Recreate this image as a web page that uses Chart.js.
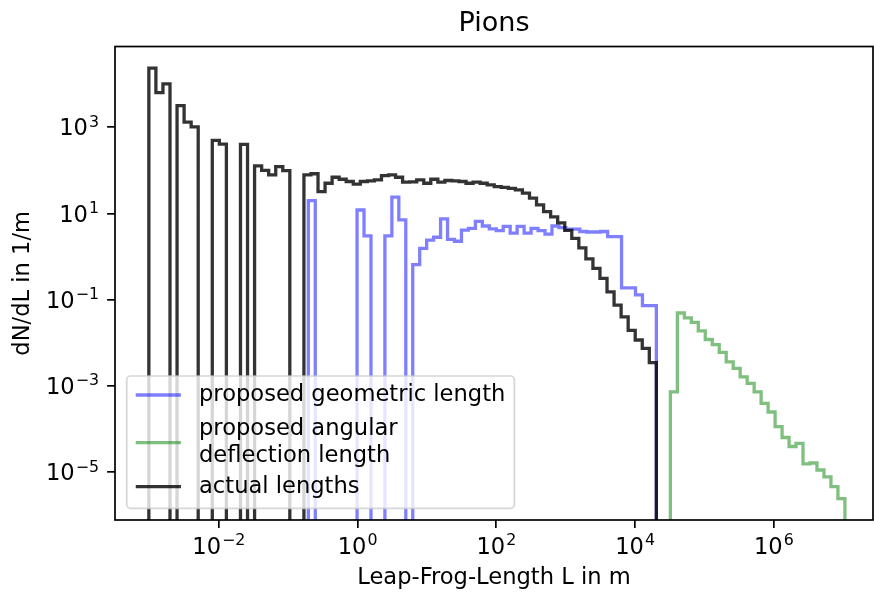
<!DOCTYPE html>
<html>
<head>
<meta charset="utf-8">
<title>Pions</title>
<script src="https://cdn.jsdelivr.net/npm/chart.js@4/dist/chart.umd.min.js"></script>
<style>
  html, body { margin: 0; padding: 0; background: #fff; }
</style>
</head>
<body>
<canvas id="pions" width="874" height="595"></canvas>
<script>
// log10 of first and last bin edge of each histogram
const actualRange = [-3.009, 4.307];
const geometricRange = [-0.710, 4.307];
const angularRange = [4.509, 7.025];

// dN/dL per bin (0 = empty bin)
const actualCounts = [
  23400, 6350, 10100, 0, 3170, 1310, 1020, 0, 0, 494,
  404, 0, 0, 400, 0, 126, 99.5, 78, 122, 98,
  0, 0, 78, 83, 32, 50, 69, 62, 55, 48,
  55, 57, 60, 75, 78, 69, 53, 54, 60, 50,
  62, 53, 58, 57, 55, 50, 53, 50, 46, 42,
  40, 38, 35.1, 29.4, 22.5, 15.7, 11.0, 8.3, 6.0, 4.04,
  2.63, 1.58, 0.88, 0.53, 0.31, 0.151, 0.075, 0.040, 0.0193, 0.0116,
  0.0074, 0.00345
];
const geometricCounts = [
  19.8, 0, 0, 0, 0, 0, 0, 12.0, 3.0, 0,
  0, 3.0, 23.8, 7.1, 0, 0.65, 1.54, 2.39, 2.8, 7.5,
  2.5, 2.26, 4.1, 4.5, 6.5, 5.1, 4.4, 4.0, 5.0, 3.5,
  5.0, 3.5, 4.5, 4.0, 3.3, 5.1, 4.7, 4.3, 4.3, 3.8,
  3.7, 3.7, 3.8, 2.9, 2.9, 0.187, 0.187, 0.129, 0.073, 0.073
];
const angularCounts = [
  7.3e-4, 0.049, 0.0376, 0.0296, 0.0188, 0.0119, 0.0091, 0.0060, 0.0036, 0.00254,
  0.00161, 0.00114, 7.3e-4, 3.95e-4, 2.48e-4, 1.13e-4, 6.35e-5, 3.93e-5, 4.66e-5, 1.55e-5,
  1.63e-5, 1.12e-5, 7.8e-6, 4.6e-6, 2.44e-6
];

const seriesNames = ['proposed geometric length', 'proposed angular\ndeflection length', 'actual lengths'];

const xTicks = [1e-2, 1, 1e2, 1e4, 1e6];
const xTickLabels = ['10^\u22122', '10^0', '10^2', '10^4', '10^6'];
const yTicks = [1e-5, 1e-3, 1e-1, 1e1, 1e3];
const yTickLabels = ['10^\u22125', '10^\u22123', '10^\u22121', '10^1', '10^3'];

const FONT = 'DejaVu Sans';
const FS = 22.6;       // 10pt text
const FLOOR = 1e-12;   // empty bins fall below the axis like in matplotlib

// turn bin counts into the outline of a step histogram
function histPoints(range, counts) {
  const n = counts.length;
  const edge = (i) => 10 ** (range[0] + (range[1] - range[0]) * i / n);
  const pts = [{ x: edge(0), y: FLOOR }];
  counts.forEach((c, i) => pts.push({ x: edge(i), y: c || FLOOR }));
  pts.push({ x: edge(n), y: counts[n - 1] || FLOOR });
  pts.push({ x: edge(n), y: FLOOR });
  return pts;
}

function stepSet(label, range, counts, color, order) {
  return {
    label: label,
    data: histPoints(range, counts),
    borderColor: color,
    borderWidth: 3.3,
    pointRadius: 0,
    fill: false,
    stepped: 'before',
    order: order,
  };
}

// "10^e" drawn as base plus raised smaller exponent, like mathtext
function powerLabel(ctx, text, x, baseline, align) {
  const [base, exp] = text.split('^');
  const bigFont = FS + 'px "' + FONT + '"';
  const smallFont = (FS * 0.7) + 'px "' + FONT + '"';
  ctx.font = bigFont;
  const wb = ctx.measureText(base).width;
  ctx.font = smallFont;
  const we = ctx.measureText(exp).width;
  const total = wb + 1 + we;
  let left = x;
  if (align === 'center') left = x - total / 2;
  if (align === 'right') left = x - total;
  ctx.textAlign = 'left';
  ctx.textBaseline = 'alphabetic';
  ctx.font = bigFont;
  ctx.fillText(base, left, baseline);
  ctx.font = smallFont;
  ctx.fillText(exp, left + wb + 1, baseline - 8.8);
}

// frame, tick labels and a matplotlib-like legend inside the axes
const frameLegend = {
  id: 'frameLegend',
  afterDraw(chart) {
    const { ctx, chartArea: a } = chart;
    const xs = chart.scales.x;
    const ys = chart.scales.y;
    ctx.save();
    ctx.strokeStyle = '#000';
    ctx.lineWidth = 1.7;
    ctx.strokeRect(a.left, a.top, a.right - a.left, a.bottom - a.top);

    ctx.fillStyle = '#000';
    xTicks.forEach((v, i) => powerLabel(ctx, xTickLabels[i], xs.getPixelForValue(v), a.bottom + 33.5, 'center'));
    yTicks.forEach((v, i) => powerLabel(ctx, yTickLabels[i], a.left - 16, ys.getPixelForValue(v) + 8.3, 'right'));

    ctx.font = FS + 'px "' + FONT + '"';
    const lines = chart.data.datasets.map((d) => d.label.split('\n'));
    let textW = 0;
    lines.flat().forEach((t) => { textW = Math.max(textW, ctx.measureText(t).width); });
    const pad = 0.4 * FS;
    const handle = 2 * FS;
    const gap = 0.8 * FS;
    const boxX = a.left + 11.7;
    const boxH = 132.3;
    const boxY = a.bottom - 11.7 - boxH;
    const boxW = pad + handle + gap + textW + pad;

    ctx.beginPath();
    ctx.roundRect(boxX, boxY, boxW, boxH, 4);
    ctx.fillStyle = 'rgba(255,255,255,0.8)';
    ctx.fill();
    ctx.strokeStyle = 'rgba(204,204,204,0.8)';
    ctx.lineWidth = 1.7;
    ctx.stroke();

    const rows = [19, 66.7, 110.7];
    const lineGap = 26.4;
    chart.data.datasets.forEach((d, i) => {
      const cy = boxY + rows[i];
      ctx.beginPath();
      ctx.moveTo(boxX + pad, cy);
      ctx.lineTo(boxX + pad + handle, cy);
      ctx.strokeStyle = d.borderColor;
      ctx.lineWidth = d.borderWidth;
      ctx.stroke();
      ctx.fillStyle = '#000';
      ctx.textBaseline = 'middle';
      ctx.textAlign = 'left';
      const ls = lines[i];
      ls.forEach((t, k) => {
        const ty = cy + (k - (ls.length - 1) / 2) * lineGap;
        ctx.fillText(t, boxX + pad + handle + gap, ty);
      });
    });
    ctx.restore();
  }
};

const axisGrid = {
  display: true,
  drawOnChartArea: false,
  drawTicks: true,
  tickLength: 7.9,
  tickWidth: 1.7,
  tickColor: '#000',
  color: '#000',
  lineWidth: 1.7,
};

new Chart(document.getElementById('pions'), {
  type: 'line',
  data: {
    datasets: [
      stepSet(seriesNames[0], geometricRange, geometricCounts, 'rgba(0,0,255,0.5)', 2),
      stepSet(seriesNames[1], angularRange, angularCounts, 'rgba(0,128,0,0.5)', 1),
      stepSet(seriesNames[2], actualRange, actualCounts, 'rgba(0,0,0,0.8)', 0),
    ],
  },
  options: {
    responsive: false,
    animation: false,
    layout: { padding: { left: 0, right: 1, top: 0, bottom: 0 } },
    plugins: {
      legend: { display: false },
      tooltip: { enabled: false },
      title: {
        display: true,
        text: 'Pions',
        color: '#000',
        fullSize: false,
        font: { family: FONT, size: 27.1, weight: 'normal' },
        padding: { top: 8, bottom: 6 },
      },
    },
    scales: {
      x: {
        type: 'logarithmic',
        bounds: 'data',
        min: 10 ** -3.497,
        max: 10 ** 7.43,
        border: { display: false },
        grid: axisGrid,
        afterBuildTicks: (axis) => { axis.ticks = xTicks.map((v) => ({ value: v })); },
        afterFit: (axis) => { axis.height = 75; },
        ticks: { display: false },
        title: {
          display: true,
          text: 'Leap-Frog-Length L in m',
          color: '#000',
          font: { family: FONT, size: FS },
          padding: { top: 0, bottom: 3.5 },
        },
      },
      y: {
        type: 'logarithmic',
        bounds: 'data',
        min: 10 ** -6.11,
        max: 10 ** 4.87,
        border: { display: false },
        grid: axisGrid,
        afterBuildTicks: (axis) => { axis.ticks = yTicks.map((v) => ({ value: v })); },
        afterFit: (axis) => { axis.width = 115; },
        ticks: { display: false },
        title: {
          display: true,
          text: 'dN/dL in 1/m',
          color: '#000',
          font: { family: FONT, size: FS },
          padding: { top: 9.5, bottom: 0 },
        },
      },
    },
  },
  plugins: [frameLegend],
});
</script>
</body>
</html>
